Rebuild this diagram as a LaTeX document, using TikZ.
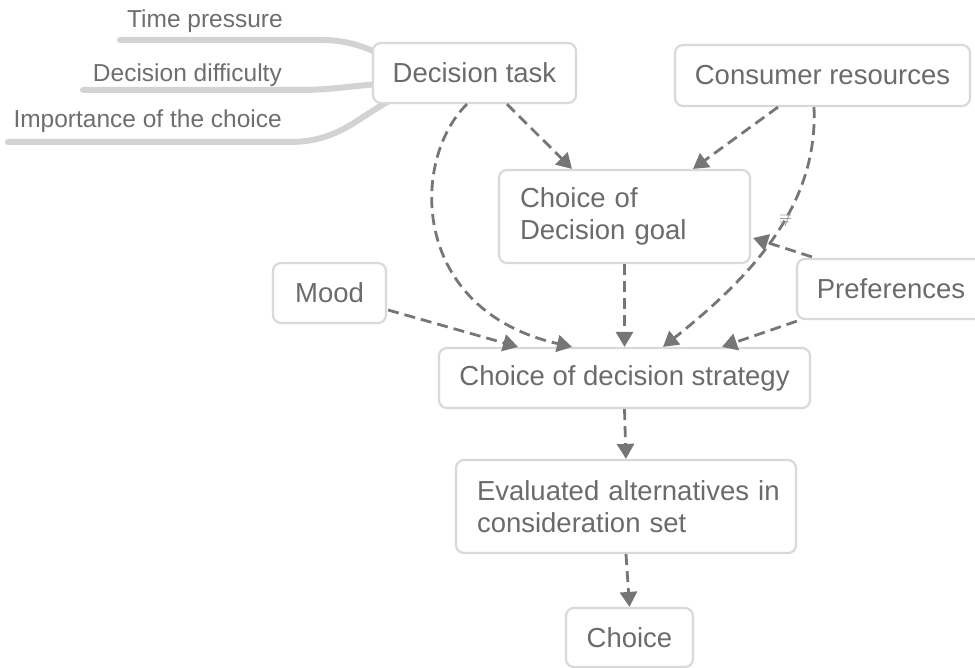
\documentclass[tikz,border=0pt]{standalone}
\usepackage{fontspec}
\setmainfont{Liberation Sans}
\usetikzlibrary{arrows.meta,calc}
\definecolor{boxline}{HTML}{D9D9D9}
\definecolor{txt}{HTML}{6B6B6B}
\definecolor{arrc}{HTML}{767676}
\definecolor{brc}{HTML}{D3D3D3}
\definecolor{labc}{HTML}{6E6E6E}
\begin{document}
\begin{tikzpicture}[x=1pt,y=-1pt,
  box/.style={draw=boxline, line width=2.2pt, rounded corners=8pt, fill=white, text=txt,
    font=\fontsize{27.5}{32}\selectfont, inner sep=0pt},
  arr/.style={draw=arrc, line width=2.8pt, dash pattern=on 11pt off 6pt,
    -{Triangle[width=17pt,length=15pt]}},
  branch/.style={draw=brc, line width=6pt, line cap=round},
  lab/.style={text=labc, font=\fontsize{24.5}{28}\selectfont, inner sep=0pt}]
\useasboundingbox (0,0) rectangle (975,668);

% left labels
\node[lab, anchor=base east] (lab1) at (283,28) {Time pressure};
\node[lab, anchor=base east] (lab2) at (282,82) {Decision difficulty};
\node[lab, anchor=base east] (lab3) at (282,128) {Importance of the choice};
\coordinate (b1) at (120,40);
\coordinate (b2) at (83,90);
\coordinate (b3) at (8,142);

% branch lines (drawn before the box)
\draw[branch] (b1) -- (320,40) .. controls (345,40) and (360,45) .. (380,54);
\draw[branch] (b2) -- (300,90) .. controls (330,90) and (350,86) .. (380,84);
\draw[branch] (b3) -- (290,142) .. controls (340,142) and (360,115) .. (395,98);

% boxes
\node[box, minimum width=203pt, minimum height=60pt] (task) at (474.5,73) {Decision task};
\node[box, minimum width=295pt, minimum height=61pt] (cons) at (822.5,75.5) {Consumer resources};
\node[box, minimum width=251pt, minimum height=93pt, text width=209pt, align=left] (goal) at (624.5,216.5) {Choice of\\Decision goal};
\node[box, minimum width=113pt, minimum height=60pt] (mood) at (329.5,293) {Mood};
\node[box, minimum width=188pt, minimum height=60pt] (pref) at (891,289) {Preferences};
\node[box, minimum width=371pt, minimum height=60pt] (strat) at (624.5,378) {Choice of decision strategy};
\node[box, minimum width=340pt, minimum height=93pt, text width=298pt, align=left] (eval) at (626,506.5) {\mbox{Evaluated alternatives in}\\consideration set};
\node[box, minimum width=127pt, minimum height=59pt] (choice) at (629.5,637.5) {Choice};

% connectors
\draw[arr] ($(task.south)+(32.5,0)$) -- ($(goal.north)+(-52.5,0)$);
\draw[arr] ($(cons.south)+(-44.5,0)$) -- ($(goal.north)+(68.5,0)$);
\draw[arr] ($(task.south)+(-7.5,0)$) .. controls (410,160) and (410,310) .. ($(strat.north)+(-52.5,0)$);
\draw[arr] ($(cons.south)+(-8.5,0)$) .. controls (818,200) and (760,270) .. ($(strat.north)+(38.5,0)$);
\draw[arr] ($(mood.east)+(1,17)$) -- ($(strat.north)+(-106.5,0)$);
\draw[arr] (goal.south) -- (strat.north);
\draw[arr] ($(pref.south west)+(1,1)$) -- ($(strat.north)+(97.5,0)$);
\draw[arr] ($(pref.north west)+(16,-1)$) -- ($(goal.east)+(2,21.5)$);
\draw[arr] (strat.south) -- (eval.north);
\draw[arr] (eval.south) -- (choice.north);

% small mark near the curve
\draw[draw=arrc!70, line width=0.9pt] (780,215) -- (791,215) (780,218.5) -- (791,218.5) (780,222) -- (789,222) (789,215) -- (785,226);
\end{tikzpicture}
\end{document}
